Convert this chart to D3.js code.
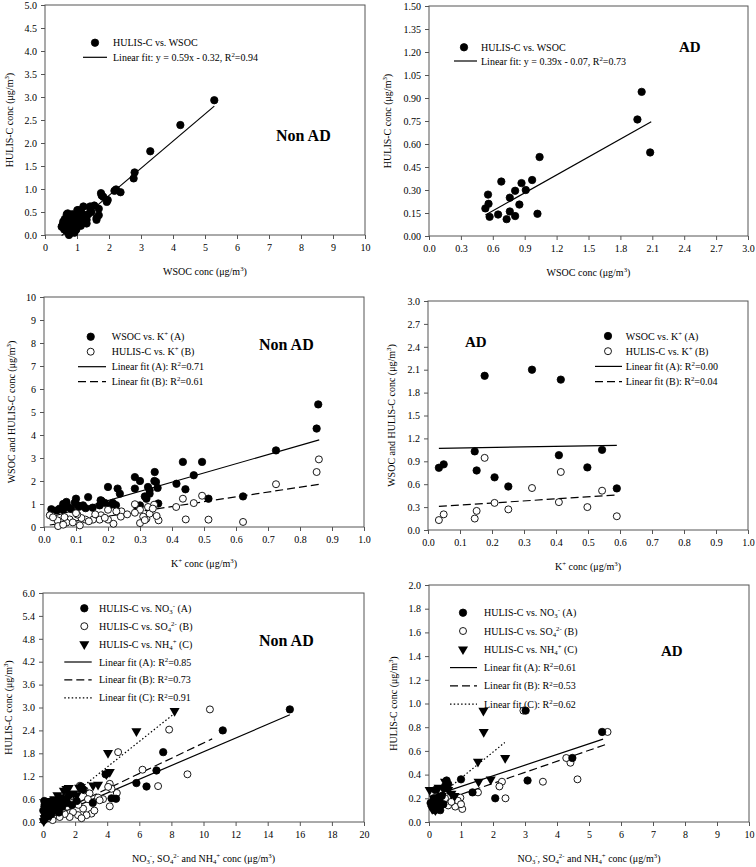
<!DOCTYPE html>
<html><head><meta charset="utf-8">
<script src="https://cdn.jsdelivr.net/npm/d3@7"></script>
<style>body{margin:0;background:#fff}svg{display:block}</style>
</head><body>
<svg id="c" width="756" height="867"></svg>
<script>
// ---------------- DATA ----------------
// Panel 1: Non AD, HULIS-C vs WSOC
const p1WSOC_HULIS = [[5.29,2.93],[4.23,2.39],[3.29,1.82],[2.80,1.36],[2.77,1.23],[2.36,0.93],[2.22,0.99],[2.17,0.96],[1.96,0.76],[1.93,0.72],[1.75,0.91],[1.82,0.83],[1.77,0.86],[1.68,0.57],[1.61,0.33],[1.68,0.43],[1.61,0.37],[1.54,0.64],[1.41,0.58],[1.41,0.62],[1.30,0.33],[1.30,0.25],[1.20,0.62],[1.06,0.53],[1.01,0.54],[1.04,0.54],[0.71,0.47],[0.68,0.45],[0.57,0.29],[0.52,0.18],[0.78,0.04],[0.75,0.0],[0.80,0.10],[0.60,0.12],[0.65,0.20],[0.70,0.30],[0.73,0.15],[0.82,0.25],[0.88,0.35],[0.90,0.18],[0.95,0.30],[0.98,0.12],[1.00,0.42],[1.05,0.25],[1.10,0.38],[1.12,0.20],[1.15,0.48],[1.20,0.35],[1.25,0.42],[0.85,0.45],[0.62,0.35],[0.68,0.08],[0.92,0.05],[0.55,0.22],[1.35,0.45],[1.45,0.50],[0.78,0.38]];
const p1Fit = [{slope:0.59, intercept:-0.32, x0:0.52, x1:5.29, style:"solid"}];

// Panel 2: AD, HULIS-C vs WSOC
const p2WSOC_HULIS = [[2.00,0.94],[1.96,0.76],[2.08,0.545],[1.04,0.515],[0.97,0.365],[0.87,0.345],[0.91,0.30],[0.81,0.295],[0.68,0.355],[0.76,0.25],[0.85,0.205],[0.555,0.27],[0.56,0.21],[0.53,0.18],[0.57,0.125],[0.65,0.14],[0.76,0.16],[0.73,0.11],[0.81,0.13],[1.02,0.145]];
const p2Fit = [{slope:0.39, intercept:-0.07, x0:0.53, x1:2.09, style:"solid"}];

// Panel 3: Non AD, WSOC (A) and HULIS-C (B) vs K+
const p3K_WSOC = [[0.857,5.33],[0.852,4.28],[0.725,3.33],[0.622,1.33],[0.514,1.23],[0.494,2.83],[0.434,2.83],[0.468,2.25],[0.414,1.88],[0.442,1.64],[0.346,2.39],[0.35,1.96],[0.357,1.02],[0.355,1.70],[0.325,1.74],[0.33,1.45],[0.32,1.23],[0.284,2.17],[0.30,2.0],[0.284,1.67],[0.29,0.91],[0.30,0.94],[0.20,1.74],[0.23,1.67],[0.237,1.45],[0.205,0.94],[0.18,1.13],[0.177,1.16],[0.215,1.05],[0.138,1.30],[0.122,0.94],[0.106,0.94],[0.10,1.23],[0.096,1.06],[0.07,1.09],[0.07,1.01],[0.06,1.0],[0.049,0.80],[0.023,0.77],[0.075,0.87],[0.152,0.84],[0.174,0.94],[0.04,0.72],[0.085,0.78],[0.13,0.82],[0.11,0.88],[0.315,1.33],[0.33,1.60],[0.19,1.05],[0.225,0.95],[0.06,0.75],[0.345,2.0]];
const p3K_HULIS = [[0.859,2.94],[0.852,2.39],[0.725,1.86],[0.622,0.22],[0.514,0.32],[0.494,1.36],[0.468,1.04],[0.434,1.23],[0.413,0.87],[0.443,0.33],[0.344,0.97],[0.358,0.29],[0.352,0.48],[0.325,0.87],[0.32,0.36],[0.33,0.58],[0.30,0.17],[0.30,0.75],[0.284,0.99],[0.284,0.62],[0.242,0.68],[0.226,0.68],[0.217,0.14],[0.20,0.75],[0.20,0.32],[0.178,0.51],[0.174,0.32],[0.153,0.32],[0.13,0.32],[0.117,0.39],[0.104,0.54],[0.112,0.07],[0.08,0.33],[0.07,0.19],[0.064,0.43],[0.042,0.29],[0.044,0.04],[0.018,0.51],[0.06,0.10],[0.09,0.20],[0.14,0.25],[0.19,0.40],[0.31,0.45],[0.34,0.80],[0.24,0.45],[0.16,0.55],[0.028,0.42],[0.10,0.60],[0.26,0.55],[0.315,0.30]];
const p3Fit = [{slope:4.0, intercept:0.35, x0:0.018, x1:0.86, style:"solid"},{slope:2.1, intercept:0.05, x0:0.018, x1:0.86, style:"dash"}];

// Panel 4: AD, WSOC (A) and HULIS-C (B) vs K+
const p4K_WSOC = [[0.034,0.815],[0.049,0.86],[0.146,1.03],[0.152,0.78],[0.208,0.69],[0.251,0.57],[0.177,2.02],[0.325,2.10],[0.415,1.97],[0.409,0.98],[0.498,0.82],[0.544,1.05],[0.59,0.545]];
const p4K_HULIS = [[0.034,0.13],[0.049,0.205],[0.146,0.15],[0.152,0.25],[0.177,0.945],[0.208,0.355],[0.251,0.27],[0.325,0.55],[0.409,0.365],[0.415,0.76],[0.498,0.30],[0.544,0.515],[0.59,0.18]];
const p4Fit = [{slope:0.07, intercept:1.068, x0:0.034, x1:0.59, style:"solid"},{slope:0.27, intercept:0.30, x0:0.034, x1:0.59, style:"dash"}];

// Panel 5: Non AD, HULIS-C vs NO3- (A), SO4 2- (B), NH4+ (C)
const p5NO3 = [[15.38,2.95],[11.2,2.40],[7.49,1.83],[7.07,1.35],[5.82,1.02],[6.45,0.93],[4.55,0.61],[4.27,0.62],[3.9,1.25],[2.37,0.93],[2.1,0.55],[1.8,0.45],[1.5,0.5],[1.2,0.4],[0.9,0.35],[0.05,0.05],[0.1,0.15],[0.15,0.3],[0.2,0.5],[0.25,0.4],[0.3,0.25],[0.1,0.45],[0.4,0.35],[0.5,0.2],[0.6,0.45],[0.7,0.3],[0.08,0.55],[0.12,0.1],[0.35,0.15],[0.45,0.5],[0.2,0.22],[0.3,0.38],[0.55,0.55],[0.8,0.5],[1.0,0.25],[1.3,0.6],[1.6,0.7],[2.5,0.85],[3.1,0.5],[0.02,0.3],[0.15,0.42]];
const p5SO4 = [[10.4,2.95],[7.86,2.42],[4.68,1.83],[6.2,1.37],[9.0,1.25],[7.17,0.94],[4.6,0.76],[4.16,0.41],[3.74,0.6],[4.16,1.0],[4.27,0.87],[4.06,0.92],[2.3,0.95],[2.6,0.83],[3.43,0.64],[3.53,0.57],[3.02,0.22],[2.71,0.18],[2.18,0.18],[1.87,0.26],[1.66,0.13],[2.5,0.35],[1.35,0.21],[1.04,0.13],[0.6,0.05],[2.9,0.75],[2.2,0.45],[1.8,0.5],[1.2,0.35],[0.8,0.55],[0.9,0.3],[0.5,0.2],[0.3,0.1],[2.0,0.65],[1.5,0.4],[3.2,0.3],[2.4,0.1],[0.7,0.4],[0.2,0.3],[1.1,0.55],[0.4,0.45],[2.8,0.6]];
const p5NH4 = [[8.2,2.91],[5.82,2.38],[4.05,1.81],[4.16,1.31],[3.95,1.25],[3.43,0.98],[3.12,0.96],[1.46,0.87],[1.6,0.89],[2.25,0.9],[1.04,0.65],[0.85,0.57],[1.3,0.82],[1.9,0.75],[0.6,0.5],[0.4,0.45],[0.3,0.3],[0.2,0.2],[0.1,0.1],[0.5,0.35],[0.7,0.6],[1.1,0.5],[0.25,0.4],[0.15,0.5],[0.05,0.02],[0.9,0.7],[1.5,0.6],[2.1,0.7],[0.35,0.55],[0.12,0.35]];
const p5Fit = [{slope:0.18, intercept:0.04, x0:0.02, x1:15.38, style:"solid"},{slope:0.2, intercept:0.07, x0:0.2, x1:10.54, style:"dash"},{slope:0.335, intercept:0.1, x0:0.05, x1:8.17, style:"dot"}];

// Panel 6: AD, HULIS-C vs NO3- (A), SO4 2- (B), NH4+ (C)
const p6NO3 = [[5.41,0.76],[4.48,0.54],[3.08,0.35],[3.02,0.94],[2.07,0.20],[1.36,0.25],[1.0,0.36],[0.1,0.15],[0.15,0.2],[0.2,0.27],[0.25,0.12],[0.3,0.18],[0.35,0.1],[0.4,0.22],[0.45,0.15],[0.5,0.3],[0.55,0.35],[0.6,0.32],[0.12,0.12],[0.18,0.1],[0.22,0.16],[0.28,0.2],[0.05,0.16]];
const p6SO4 = [[5.58,0.76],[4.64,0.36],[4.42,0.50],[4.29,0.54],[3.56,0.34],[2.95,0.94],[2.39,0.20],[2.28,0.34],[2.2,0.30],[1.53,0.25],[0.98,0.205],[1.04,0.11],[0.82,0.13],[0.6,0.14],[0.9,0.18],[0.5,0.2],[0.7,0.17],[0.4,0.15],[0.3,0.12],[1.0,0.15]];
const p6NH4 = [[1.7,0.94],[1.71,0.76],[1.53,0.51],[2.38,0.54],[1.55,0.34],[1.93,0.36],[0.5,0.34],[0.55,0.3],[0.45,0.28],[0.6,0.27],[0.7,0.24],[0.3,0.29],[0.02,0.27],[0.15,0.2],[0.25,0.12],[0.35,0.15],[0.4,0.22],[0.1,0.11],[0.2,0.1],[0.8,0.22]];
const p6Fit = [{slope:0.09, intercept:0.21, x0:0.05, x1:5.44, style:"solid"},{slope:0.093, intercept:0.14, x0:0.3, x1:5.6, style:"dash"},{slope:0.22, intercept:0.15, x0:0.1, x1:2.37, style:"dot"}];

// Tick values
const ticks1x = d3.range(0, 10.01, 1), ticks1y = d3.range(0, 5.01, 0.5);
const ticks2x = d3.range(0, 3.01, 0.3), ticks2y = d3.range(0, 1.501, 0.15);
const ticks3x = d3.range(0, 1.001, 0.1), ticks3y = d3.range(0, 10.01, 1);
const ticks4x = d3.range(0, 1.001, 0.1), ticks4y = d3.range(0, 3.001, 0.3);
const ticks5x = d3.range(0, 20.01, 2), ticks5y = d3.range(0, 6.001, 0.6);
const ticks6x = d3.range(0, 10.01, 1), ticks6y = d3.range(0, 2.001, 0.2);

// ---------------- DRAW ----------------
const FONT = "'Liberation Serif','Times New Roman',Times,serif";
const svg = d3.select("#c");

function rich(textSel, str, size){
  const parts = str.split(/(\^\{[^}]*\}|_\{[^}]*\})/).filter(s => s.length);
  let cur = 0;
  parts.forEach(p => {
    let target = 0, txt = p, fs = size;
    if (p.startsWith("^{")) { target = -size*0.38; txt = p.slice(2,-1); fs = size*0.68; }
    else if (p.startsWith("_{")) { target = size*0.22; txt = p.slice(2,-1); fs = size*0.68; }
    textSel.append("tspan").attr("dy", (target-cur).toFixed(2)).attr("font-size", fs).text(txt);
    cur = target;
  });
}

const dashMap = {solid: null, dash: "8,4", dot: "1.5,2.2"};

function drawMarker(g, type, x, y){
  if (type === "filled") g.append("circle").attr("cx",x).attr("cy",y).attr("r",3.7).attr("fill","#000").attr("stroke","#000").attr("stroke-width",0.8);
  else if (type === "open") g.append("circle").attr("cx",x).attr("cy",y).attr("r",3.5).attr("fill","#fff").attr("stroke","#000").attr("stroke-width",0.9);
  else if (type === "tri") g.append("path").attr("d", d3.symbol().type(d3.symbolTriangle).size(44)()).attr("transform",`translate(${x},${y}) rotate(180)`).attr("fill","#000");
}

function panel(cfg){
  const {L,T,W,H} = cfg.box;
  const x = d3.scaleLinear().domain(cfg.xd).range([L, L+W]);
  const y = d3.scaleLinear().domain(cfg.yd).range([T+H, T]);
  const g = svg.append("g");
  const ax = g.append("g").attr("transform",`translate(0,${T+H})`)
    .call(d3.axisBottom(x).tickValues(cfg.xt).tickFormat(d3.format(cfg.xf)).tickSize(4).tickPadding(5));
  const ay = g.append("g").attr("transform",`translate(${L},0)`)
    .call(d3.axisLeft(y).tickValues(cfg.yt).tickFormat(d3.format(cfg.yf)).tickSize(4).tickPadding(4));
  [ax,ay].forEach(a => {
    a.select(".domain").remove();
    a.selectAll(".tick line").attr("stroke","#555");
    a.selectAll(".tick text").attr("font-family",FONT).attr("font-size",10).attr("fill","#000");
  });
  g.append("rect").attr("x",L).attr("y",T).attr("width",W).attr("height",H).attr("fill","none").attr("stroke","#555").attr("stroke-width",1);
  cfg.fits.forEach(f => {
    g.append("line").attr("x1",x(f.x0)).attr("y1",y(f.slope*f.x0+f.intercept))
      .attr("x2",x(f.x1)).attr("y2",y(f.slope*f.x1+f.intercept))
      .attr("stroke","#000").attr("stroke-width",1.2).attr("stroke-dasharray",dashMap[f.style]);
  });
  cfg.series.forEach(s => s.data.forEach(d => drawMarker(g, s.type, x(d[0]), y(d[1]))));
  const xt = g.append("text").attr("x",L+W/2).attr("y",T+H+cfg.xtOff).attr("text-anchor","middle").attr("font-family",FONT).attr("font-size",10);
  rich(xt, cfg.xtitle, 10);
  const yt = g.append("text").attr("transform",`translate(${cfg.ytX},${T+H/2}) rotate(-90)`).attr("text-anchor","middle").attr("font-family",FONT).attr("font-size",10);
  rich(yt, cfg.ytitle, 10);
  const lg = cfg.legend;
  lg.items.forEach((it,i) => {
    const cy = lg.y + i*lg.dy;
    if (["filled","open","tri"].includes(it.type)) drawMarker(g, it.type, lg.sx, cy);
    else g.append("line").attr("x1",lg.lx0).attr("x2",lg.lx1).attr("y1",cy).attr("y2",cy).attr("stroke","#000").attr("stroke-width",1.2).attr("stroke-dasharray",dashMap[it.type]);
    const t = g.append("text").attr("x",lg.tx).attr("y",cy+3.5).attr("font-family",FONT).attr("font-size",10);
    rich(t, it.text, 10);
  });
  g.append("text").attr("x",cfg.label.x).attr("y",cfg.label.y).attr("font-family",FONT).attr("font-weight","bold").attr("font-size",cfg.label.size).text(cfg.label.text);
}

const UNIT = " conc (μg/m^{3})";

panel({box:{L:45,T:5,W:320,H:230}, xd:[0,10], yd:[0,5], xt:ticks1x, yt:ticks1y, xf:"d", yf:".1f",
  xtitle:"WSOC"+UNIT, ytitle:"HULIS-C"+UNIT, xtOff:40, ytX:13,
  fits:p1Fit, series:[{type:"filled",data:p1WSOC_HULIS}],
  legend:{sx:95, lx0:83, lx1:107, tx:113, y:42.7, dy:14.6, items:[{type:"filled",text:"HULIS-C vs. WSOC"},{type:"solid",text:"Linear fit: y = 0.59x - 0.32, R^{2}=0.94"}]},
  label:{text:"Non AD", x:276, y:141, size:16}});

panel({box:{L:429,T:6,W:319,H:230}, xd:[0,3], yd:[0,1.5], xt:ticks2x, yt:ticks2y, xf:".1f", yf:".2f",
  xtitle:"WSOC"+UNIT, ytitle:"HULIS-C"+UNIT, xtOff:40, ytX:391,
  fits:p2Fit, series:[{type:"filled",data:p2WSOC_HULIS}],
  legend:{sx:464, lx0:454, lx1:477, tx:481, y:47.3, dy:13.7, items:[{type:"filled",text:"HULIS-C vs. WSOC"},{type:"solid",text:"Linear fit: y = 0.39x - 0.07, R^{2}=0.73"}]},
  label:{text:"AD", x:679, y:52, size:15}});

panel({box:{L:44,T:297,W:320,H:230}, xd:[0,1], yd:[0,10], xt:ticks3x, yt:ticks3y, xf:".1f", yf:"d",
  xtitle:"K^{+}"+UNIT, ytitle:"WSOC and HULIS-C"+UNIT, xtOff:40, ytX:15,
  fits:p3Fit, series:[{type:"filled",data:p3K_WSOC},{type:"open",data:p3K_HULIS}],
  legend:{sx:90.7, lx0:78, lx1:106, tx:111.7, y:336.7, dy:15, items:[{type:"filled",text:"WSOC vs. K^{+} (A)"},{type:"open",text:"HULIS-C vs. K^{+} (B)"},{type:"solid",text:"Linear fit (A): R^{2}=0.71"},{type:"dash",text:"Linear fit (B): R^{2}=0.61"}]},
  label:{text:"Non AD", x:259, y:350, size:16}});

panel({box:{L:428,T:301,W:320,H:229}, xd:[0,1], yd:[0,3], xt:ticks4x, yt:ticks4y, xf:".1f", yf:".1f",
  xtitle:"K^{+}"+UNIT, ytitle:"WSOC and HULIS-C"+UNIT, xtOff:40, ytX:395,
  fits:p4Fit, series:[{type:"filled",data:p4K_WSOC},{type:"open",data:p4K_HULIS}],
  legend:{sx:608, lx0:595, lx1:622, tx:625.7, y:336, dy:15.2, items:[{type:"filled",text:"WSOC vs. K^{+} (A)"},{type:"open",text:"HULIS-C vs. K^{+} (B)"},{type:"solid",text:"Linear fit (A): R^{2}=0.00"},{type:"dash",text:"Linear fit (B): R^{2}=0.04"}]},
  label:{text:"AD", x:465, y:347, size:15}});

panel({box:{L:43,T:593,W:321,H:229}, xd:[0,20], yd:[0,6], xt:ticks5x, yt:ticks5y, xf:"d", yf:".1f",
  xtitle:"NO_{3}^{-}, SO_{4}^{2-} and NH_{4}^{+}"+UNIT, ytitle:"HULIS-C"+UNIT, xtOff:40, ytX:12,
  fits:p5Fit, series:[{type:"open",data:p5SO4},{type:"filled",data:p5NO3},{type:"tri",data:p5NH4}],
  legend:{sx:84.3, lx0:64.3, lx1:91.7, tx:99, y:608.3, dy:17.9, items:[{type:"filled",text:"HULIS-C vs. NO_{3}^{-} (A)"},{type:"open",text:"HULIS-C vs. SO_{4}^{2-} (B)"},{type:"tri",text:"HULIS-C vs. NH_{4}^{+} (C)"},{type:"solid",text:"Linear fit (A): R^{2}=0.85"},{type:"dash",text:"Linear fit (B): R^{2}=0.73"},{type:"dot",text:"Linear fit (C): R^{2}=0.91"}]},
  label:{text:"Non AD", x:259, y:646, size:16}});

panel({box:{L:429,T:585,W:320,H:237}, xd:[0,10], yd:[0,2], xt:ticks6x, yt:ticks6y, xf:"d", yf:".1f",
  xtitle:"NO_{3}^{-}, SO_{4}^{2-} and NH_{4}^{+}"+UNIT, ytitle:"HULIS-C"+UNIT, xtOff:40, ytX:397,
  fits:p6Fit, series:[{type:"open",data:p6SO4},{type:"filled",data:p6NO3},{type:"tri",data:p6NH4}],
  legend:{sx:463, lx0:450, lx1:477, tx:484, y:612.7, dy:18.3, items:[{type:"filled",text:"HULIS-C vs. NO_{3}^{-} (A)"},{type:"open",text:"HULIS-C vs. SO_{4}^{2-} (B)"},{type:"tri",text:"HULIS-C vs. NH_{4}^{+} (C)"},{type:"solid",text:"Linear fit (A): R^{2}=0.61"},{type:"dash",text:"Linear fit (B): R^{2}=0.53"},{type:"dot",text:"Linear fit (C): R^{2}=0.62"}]},
  label:{text:"AD", x:661, y:656, size:15}});
</script>
</body></html>
